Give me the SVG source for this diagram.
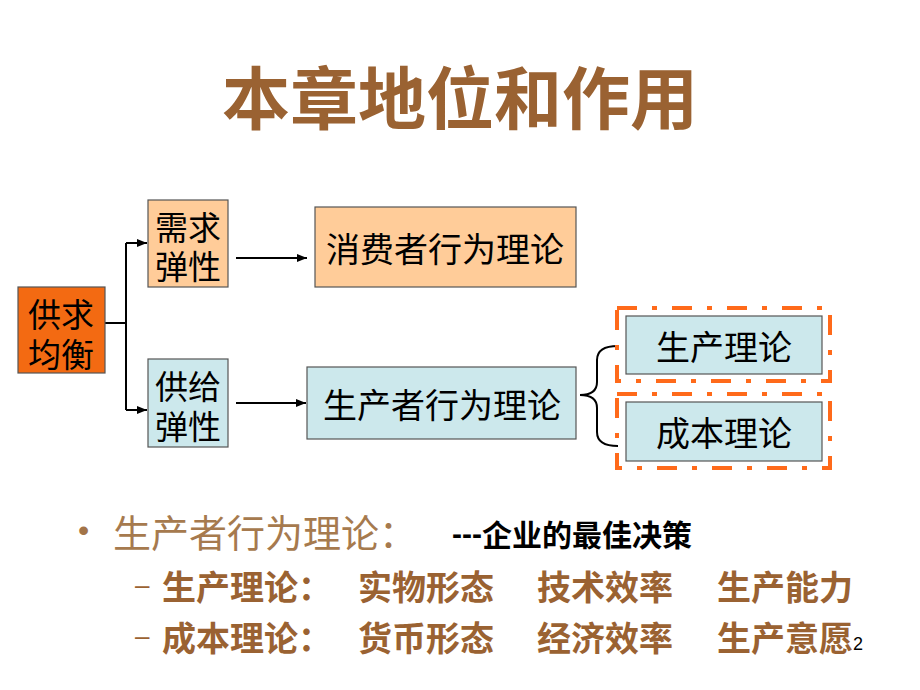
<svg xmlns="http://www.w3.org/2000/svg" width="920" height="690" viewBox="0 0 920 690">
<defs>
<style>
.cjk{font-family:"Noto Sans CJK SC","Noto Sans CJK JP",sans-serif;}
.cjk2{font-family:"Liberation Sans","Noto Sans CJK SC",sans-serif;}
.box{stroke:#555;stroke-width:1.2;}
.bt{font-size:34px;fill:#000;text-anchor:middle;dominant-baseline:central;}
.bt2{font-size:33px;fill:#000;text-anchor:middle;}
.conn{stroke:#000;stroke-width:2;fill:none;}
.dash{fill:none;stroke:#FF6A1A;stroke-width:4;stroke-dasharray:20 15 5 15;}
.sub{font-size:34px;fill:#9A6232;font-weight:bold;dominant-baseline:central;}
</style>
<marker id="ah" viewBox="0 0 10 10" refX="10" refY="5" markerWidth="5" markerHeight="5" orient="auto" markerUnits="strokeWidth">
<path d="M0,1 L10,5 L0,9 Z" fill="#000"/>
</marker>
</defs>
<rect width="920" height="690" fill="#fff"/>
<text class="cjk" x="460" y="94" font-size="68" fill="#9A6232" font-weight="bold" text-anchor="middle" dominant-baseline="central">本章地位和作用</text>

<g id="connectors">
<path class="conn" d="M105,323 H126"/>
<path class="conn" d="M126,243 V410"/>
<path class="conn" d="M126,243 H147" marker-end="url(#ah)"/>
<path class="conn" d="M126,410 H147" marker-end="url(#ah)"/>
<path class="conn" d="M236,258 H307" marker-end="url(#ah)"/>
<path class="conn" d="M236,403 H306" marker-end="url(#ah)"/>
<path class="conn" stroke-width="3.5" d="M618,346 Q597,346 597,360 V382 Q597,395 580,395 Q597,395 597,408 V432 Q597,446 618,446"/>
</g>

<g id="n-gqjh">
<rect class="box" x="18" y="287" width="87" height="86" fill="#F36A12"/>
<text class="cjk2 bt2"><tspan x="61" y="327">供求</tspan><tspan x="61" y="367">均衡</tspan></text>
</g>
<g id="n-xqtx">
<rect class="box" x="148" y="200" width="80" height="87" fill="#FFCC99"/>
<text class="cjk2 bt2"><tspan x="188" y="240">需求</tspan><tspan x="188" y="279">弹性</tspan></text>
</g>
<g id="n-gjtx">
<rect class="box" x="148" y="359" width="80" height="88" fill="#CCE8EC"/>
<text class="cjk2 bt2"><tspan x="188" y="399">供给</tspan><tspan x="188" y="439">弹性</tspan></text>
</g>
<g id="n-xfz">
<rect class="box" x="315" y="207" width="261" height="80" fill="#FFCC99"/>
<text class="cjk bt" x="445" y="247">消费者行为理论</text>
</g>
<g id="n-scz">
<rect class="box" x="307" y="367" width="269" height="72" fill="#CCE8EC"/>
<text class="cjk bt" x="442" y="403">生产者行为理论</text>
</g>
<g id="n-scll">
<rect class="dash" x="617" y="308" width="213" height="73"/>
<rect class="box" x="626" y="316" width="196" height="58" fill="#CCE8EC"/>
<text class="cjk bt" x="724" y="345">生产理论</text>
</g>
<g id="n-cbll">
<rect class="dash" x="617" y="394" width="213" height="74"/>
<rect class="box" x="626" y="402" width="196" height="59" fill="#CCE8EC"/>
<text class="cjk bt" x="724" y="431">成本理论</text>
</g>

<g id="notes">
<text x="78" y="541" font-family="Liberation Sans, sans-serif" font-size="32" fill="#A27448">•</text>
<text class="cjk" x="113" y="530" font-size="38" fill="#A67A4E" dominant-baseline="central">生产者行为理论：</text>
<text class="cjk" x="452" y="533" font-size="30" fill="#000" font-weight="bold" dominant-baseline="central"><tspan font-family="Liberation Sans, sans-serif">---</tspan>企业的最佳决策</text>
<text x="135" y="594" font-family="Liberation Sans, sans-serif" font-size="26" fill="#9A6232">–</text>
<text class="cjk sub" x="162" y="585">生产理论：</text>
<text class="cjk sub" x="358" y="585">实物形态</text>
<text class="cjk sub" x="537" y="585">技术效率</text>
<text class="cjk sub" x="717" y="585">生产能力</text>
<text x="135" y="645" font-family="Liberation Sans, sans-serif" font-size="26" fill="#9A6232">–</text>
<text class="cjk sub" x="162" y="636">成本理论：</text>
<text class="cjk sub" x="358" y="636">货币形态</text>
<text class="cjk sub" x="537" y="636">经济效率</text>
<text class="cjk sub" x="717" y="636">生产意愿</text>
<text x="853" y="650" font-family="Liberation Sans, sans-serif" font-size="18" fill="#000">2</text>
</g>
</svg>
